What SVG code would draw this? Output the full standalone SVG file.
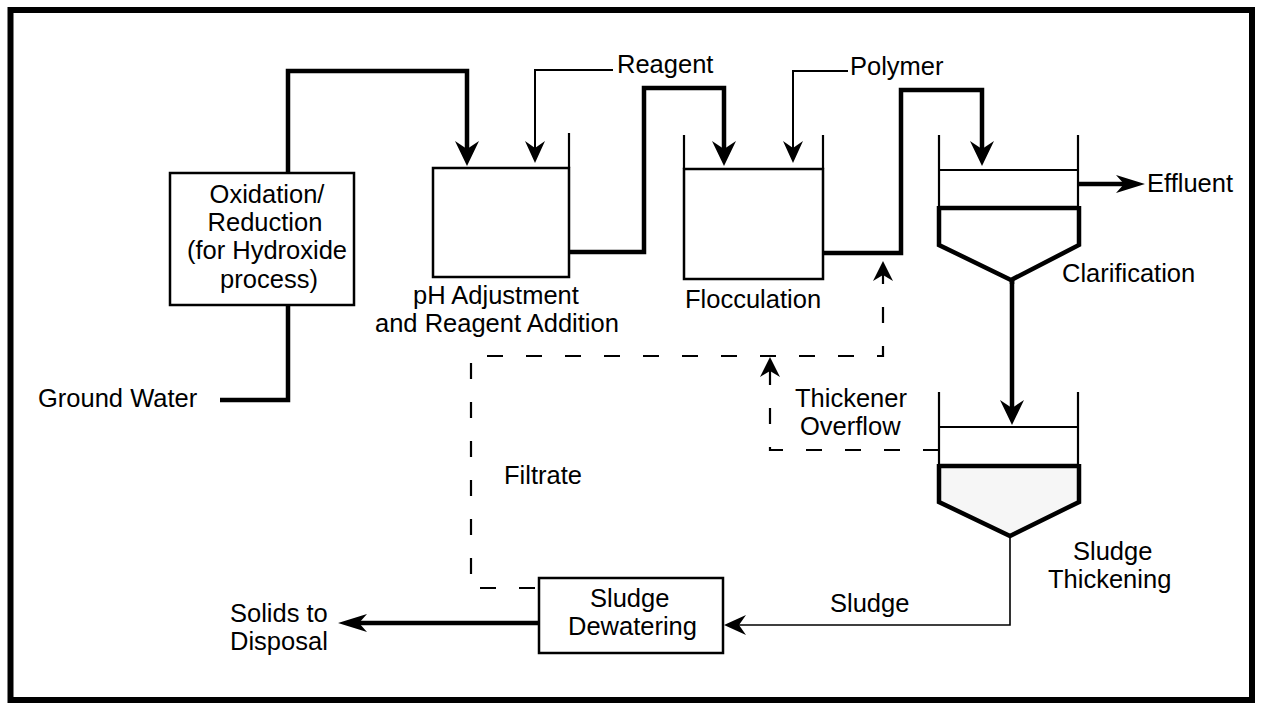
<svg xmlns="http://www.w3.org/2000/svg" xmlns:xlink="http://www.w3.org/1999/xlink" width="1263" height="704" viewBox="0 0 1263 704">
<style>
  text { font-family: "Liberation Sans", Arial, sans-serif; font-size: 25.5px; fill: #000; }
  .thick { fill: none; stroke: #000; stroke-width: 4.5; stroke-linejoin: miter; }
  .thin { fill: none; stroke: #000; stroke-width: 2; }
  .hair { fill: none; stroke: #000; stroke-width: 1.6; }
  .dash { fill: none; stroke: #000; stroke-width: 2.2; stroke-dasharray: 16 23; }
  .box { fill: #fff; stroke: #000; stroke-width: 2.5; }
  .wall { fill: none; stroke: #000; stroke-width: 2.2; }
  .wallb { fill: none; stroke: #000; stroke-width: 4.5; stroke-linejoin: miter; }
  .head { fill: #000; stroke: none; }
</style>
<defs>
  <path id="big" class="head" d="M0,0 L-25,-12 L-17,0 L-25,12 z"/>
  <path id="small" class="head" d="M0,0 L-22,-10 L-15,0 L-22,10 z"/>
  <path id="dsh" class="head" d="M0,0 L-20,-10 L-14,0 L-20,10 z"/>
  <path id="long" class="head" d="M0,0 L-29,-9 L-21,0 L-29,9 z"/>
</defs>

<rect x="0" y="0" width="1263" height="704" fill="#fff"/>
<rect id="frame" x="10.5" y="10" width="1241.5" height="690" fill="none" stroke="#000" stroke-width="6"/>

<g id="connectors">
  <path class="thick" d="M220,400 H288 V305"/>
  <path class="thick" d="M288,173 V71 H467 V150"/>
  <use xlink:href="#big" href="#big" transform="translate(467,166) rotate(90)"/>
  <path class="thick" d="M569,252 H644 V88 H724 V150"/>
  <use xlink:href="#big" href="#big" transform="translate(724,166) rotate(90)"/>
  <path class="thick" d="M823,253 H901 V90 H982 V150"/>
  <use xlink:href="#big" href="#big" transform="translate(982,166) rotate(90)"/>
  <path class="thin" d="M613,70 H535 V150"/>
  <use xlink:href="#small" href="#small" transform="translate(535,163) rotate(90)"/>
  <path class="thin" d="M848,71 H793 V150"/>
  <use xlink:href="#small" href="#small" transform="translate(793,163) rotate(90)"/>
  <path class="thick" d="M1078,184 H1128" stroke-width="3.5"/>
  <use xlink:href="#long" href="#long" transform="translate(1145,184)"/>
  <path class="thick" d="M1012,280 V410" stroke-width="3.5"/>
  <use xlink:href="#big" href="#big" transform="translate(1012,425) rotate(90)"/>
  <path class="hair" d="M1010,536 V625 H738"/>
  <use xlink:href="#small" href="#small" transform="translate(724,625) rotate(180)"/>
  <path class="thick" d="M539,623 H356"/>
  <use xlink:href="#long" href="#long" transform="translate(338,623) rotate(180)"/>
  <path class="dash" d="M535,588 H471 V356 H883 V272"/>
  <use xlink:href="#dsh" href="#dsh" transform="translate(883,261) rotate(-90)"/>
  <path class="dash" d="M939,450 H770 V370"/>
  <use xlink:href="#dsh" href="#dsh" transform="translate(770,357) rotate(-90)"/>
</g>

<g id="oxidation">
  <rect class="box" x="170" y="173" width="184" height="132"/>
  <text x="267" y="203" text-anchor="middle">Oxidation/</text>
  <text x="265" y="231" text-anchor="middle">Reduction</text>
  <text x="267" y="259" text-anchor="middle">(for Hydroxide</text>
  <text x="269" y="288" text-anchor="middle">process)</text>
</g>

<g id="ground-water">
  <text x="38" y="407">Ground Water</text>
</g>

<g id="ph-adjustment">
  <rect class="box" x="433" y="168" width="136" height="109"/>
  <path class="wall" d="M569,133 V168"/>
  <text x="413" y="304">pH Adjustment</text>
  <text x="375" y="332">and Reagent Addition</text>
</g>

<g id="reagent">
  <text x="617" y="73">Reagent</text>
</g>

<g id="flocculation">
  <rect class="box" x="684" y="169" width="139" height="110"/>
  <path class="wall" d="M684,135 V169 M823,135 V169"/>
  <text x="685" y="308">Flocculation</text>
</g>

<g id="polymer">
  <text x="850" y="75">Polymer</text>
</g>

<g id="clarification">
  <path class="wall" d="M939,135 V208 M1078,135 V208 M939,170 H1078"/>
  <path class="wallb" d="M939,208 H1079 M939,206 V245 L1011,280 L1079,245 V206"/>
  <path class="wallb" d="M1012,280 V284"/>
  <text x="1062" y="282">Clarification</text>
</g>

<g id="effluent">
  <text x="1147" y="192">Effluent</text>
</g>

<g id="thickening">
  <path d="M939,466 H1079 V502 L1010,536 L939,502 z" fill="#f6f6f6"/>
  <path class="wall" d="M939,392 V466 M1078,392 V466 M939,427 H1078"/>
  <path class="wallb" d="M939,466 H1079 M939,464 V502 L1010,536 L1079,502 V464"/>
  <text x="1073" y="560">Sludge</text>
  <text x="1048" y="588">Thickening</text>
</g>

<g id="thickener-overflow">
  <text x="795" y="407">Thickener</text>
  <text x="800" y="435">Overflow</text>
</g>

<g id="filtrate">
  <text x="504" y="484">Filtrate</text>
</g>

<g id="sludge-label">
  <text x="830" y="612">Sludge</text>
</g>

<g id="dewatering">
  <rect class="box" x="539" y="578" width="184" height="75"/>
  <text x="590" y="607">Sludge</text>
  <text x="568" y="635">Dewatering</text>
</g>

<g id="solids">
  <text x="230" y="622">Solids to</text>
  <text x="230" y="650">Disposal</text>
</g>
</svg>
